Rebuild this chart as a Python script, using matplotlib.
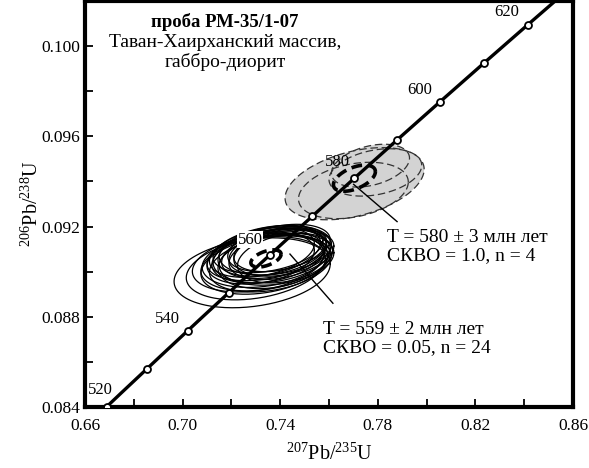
import numpy as np
import matplotlib
matplotlib.use("Agg")
import matplotlib.pyplot as plt
from matplotlib.ticker import FormatStrFormatter

plt.rcParams['font.family'] = ['Liberation Serif', 'DejaVu Serif']
plt.rcParams['mathtext.fontset'] = 'custom'
plt.rcParams['mathtext.rm'] = 'Liberation Serif'

# decay constants (1/yr) for the concordia
lam238 = 1.55125e-10
lam235 = 9.8485e-10

# axis ticks
x_major = [0.66, 0.70, 0.74, 0.78, 0.82, 0.86]
x_minor = [0.68, 0.72, 0.76, 0.80, 0.84]
y_major = [0.084, 0.088, 0.092, 0.096, 0.100]
y_minor = [0.086, 0.090, 0.094, 0.098]

# ages marked on the concordia, Ma
tick_ages = [520, 530, 540, 550, 560, 570, 580, 590, 600, 610, 620]
label_ages = [520, 540, 560, 580, 600, 620]
label_offsets = [(-6, 17), (-20, 12), (-20, 15), (-17, 16), (-21, 12), (-21, 13)]

# black ellipses (24 analyses): 207Pb/235U, 206Pb/238U, half-extents, rho
b_x = [0.7350, 0.7375, 0.7330, 0.7390, 0.7340, 0.7365, 0.7400, 0.7320,
       0.7385, 0.7355, 0.7335, 0.7410, 0.7345, 0.7370, 0.7300, 0.7285,
       0.7395, 0.7360, 0.7380, 0.7325, 0.7420, 0.7350, 0.7310, 0.7405]
b_y = [0.09065, 0.09080, 0.09050, 0.09090, 0.09040, 0.09070, 0.09100, 0.09060,
       0.09055, 0.09090, 0.09030, 0.09085, 0.09075, 0.09045, 0.09015, 0.08995,
       0.09105, 0.09035, 0.09095, 0.09085, 0.09060, 0.09100, 0.09040, 0.09075]
b_ex = [0.0230, 0.0215, 0.0250, 0.0200, 0.0265, 0.0240, 0.0190, 0.0220,
        0.0235, 0.0210, 0.0260, 0.0200, 0.0245, 0.0225, 0.0285, 0.0320,
        0.0210, 0.0250, 0.0230, 0.0215, 0.0195, 0.0225, 0.0270, 0.0215]
b_ey = [0.00115, 0.00110, 0.00120, 0.00105, 0.00125, 0.00120, 0.00100, 0.00115,
        0.00115, 0.00110, 0.00130, 0.00105, 0.00115, 0.00120, 0.00140, 0.00155,
        0.00105, 0.00125, 0.00110, 0.00110, 0.00110, 0.00105, 0.00130, 0.00110]
b_rho = [0.30, 0.35, 0.25, 0.35, 0.30, 0.25, 0.35, 0.30, 0.25, 0.35, 0.30, 0.30,
         0.35, 0.25, 0.30, 0.25, 0.35, 0.30, 0.25, 0.35, 0.30, 0.35, 0.30, 0.35]

# grey ellipses (4 analyses)
g_x = [0.7705, 0.7700, 0.7770, 0.7790]
g_y = [0.09390, 0.09360, 0.09470, 0.09440]
g_ex = [0.0285, 0.0225, 0.0160, 0.0190]
g_ey = [0.00160, 0.00125, 0.00095, 0.00105]
g_rho = [0.40, 0.30, 0.35, 0.30]

# concordia ages (Ma) and their ellipses
c_age = [559, 580]
c_ex = [0.0062, 0.0086]
c_ey = [0.00038, 0.00058]
c_rho = [0.5, 0.5]


def conc(t):
    t = np.asarray(t) * 1e6
    return np.exp(lam235 * t) - 1, np.exp(lam238 * t) - 1


def ell(x, y, ex, ey, rho):
    a = np.linspace(0, 2 * np.pi, 200)
    return x + ex * np.cos(a), y + ey * (rho * np.cos(a) + np.sqrt(1 - rho ** 2) * np.sin(a))


fig = plt.figure(figsize=(5.89, 4.68), dpi=100)
ax = fig.add_axes([85 / 589, 61 / 468, 488 / 589, 406 / 468])

# grey ellipses
for i in range(len(g_x)):
    ex_, ey_ = ell(g_x[i], g_y[i], g_ex[i], g_ey[i], g_rho[i])
    ax.fill(ex_, ey_, color='#d3d3d3', lw=0, zorder=1)
for i in range(len(g_x)):
    ex_, ey_ = ell(g_x[i], g_y[i], g_ex[i], g_ey[i], g_rho[i])
    ax.plot(ex_, ey_, color='#333333', lw=0.9, ls=(0, (6, 3)), zorder=2)

# black ellipses
for i in range(len(b_x)):
    ex_, ey_ = ell(b_x[i], b_y[i], b_ex[i], b_ey[i], b_rho[i])
    ax.plot(ex_, ey_, color='black', lw=0.9, zorder=2)

# concordia age ellipses
for i in range(len(c_age)):
    cx, cy = conc(c_age[i])
    ex_, ey_ = ell(cx, cy, c_ex[i], c_ey[i], c_rho[i])
    ax.plot(ex_, ey_, color='black', lw=2.6, ls=(0, (3, 1.6)), zorder=3)

# concordia curve
tt = np.linspace(500, 650, 300)
cx, cy = conc(tt)
ax.plot(cx, cy, color='black', lw=2.4, zorder=4)
mx, my = conc(tick_ages)
ax.plot(mx, my, 'o', ms=5, mfc='white', mec='black', mew=1.3, zorder=5)
for age, off in zip(label_ages, label_offsets):
    px, py = conc(age)
    bb = dict(fc='white', ec='none', pad=0.5) if age == 560 else None
    ax.annotate(str(age), (px, py), xytext=off, textcoords='offset pixels',
                ha='center', va='center', fontsize=12, zorder=6, bbox=bb)

# leader lines and labels
ax.plot([0.7701, 0.7879], [0.09387, 0.09222], color='black', lw=1.0, zorder=4)
ax.plot([0.7440, 0.7616], [0.09078, 0.08860], color='black', lw=1.0, zorder=4)
ax.text(0.7838, 0.09113, 'T = 580 ± 3 млн лет\nСКВО = 1.0, n = 4',
        fontsize=14, ha='left', va='center', linespacing=1.1)
ax.text(0.7575, 0.08702, 'T = 559 ± 2 млн лет\nСКВО = 0.05, n = 24',
        fontsize=14, ha='left', va='center', linespacing=1.1)

ax.text(0.7174, 0.10107, 'проба РМ-35/1-07', fontsize=13.5, fontweight='bold',
        ha='center', va='center')
ax.text(0.7174, 0.10018, 'Таван-Хаирханский массив,', fontsize=14,
        ha='center', va='center')
ax.text(0.7174, 0.09930, 'габбро-диорит', fontsize=14,
        ha='center', va='center')

ax.set_xlim(0.66, 0.86)
ax.set_ylim(0.084, 0.102)
ax.set_xticks(x_major)
ax.set_xticks(x_minor, minor=True)
ax.set_yticks(y_major)
ax.set_yticks(y_minor, minor=True)
ax.xaxis.set_major_formatter(FormatStrFormatter('%.2f'))
ax.yaxis.set_major_formatter(FormatStrFormatter('%.3f'))
ax.tick_params(which='both', direction='in', length=6, width=1.3, labelsize=12.5)
ax.tick_params(axis='x', pad=8)
for s in ax.spines.values():
    s.set_linewidth(3)

ax.set_xlabel(r'$^{207}$Pb/$^{235}$U', fontsize=14.5, labelpad=6)
ax.set_ylabel(r'$^{206}$Pb/$^{238}$U', fontsize=14.5, labelpad=-1)

fig.savefig('out.png', dpi=100)
